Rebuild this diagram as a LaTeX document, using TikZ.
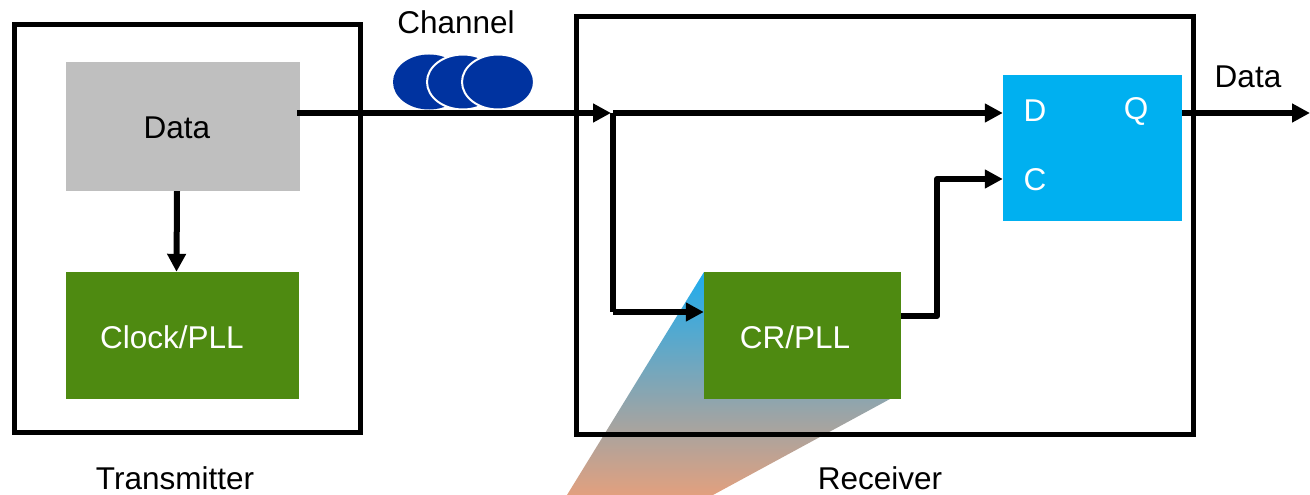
\documentclass[tikz,border=0pt]{standalone}
\usepackage{fontspec}
\setmainfont{Liberation Sans}
\usetikzlibrary{arrows.meta,shapes.geometric}
\definecolor{boxgray}{RGB}{191,191,191}
\definecolor{pllgreen}{RGB}{78,138,17}
\definecolor{ffcyan}{RGB}{0,176,240}
\definecolor{chanblue}{RGB}{0,51,160}
\definecolor{conetop}{RGB}{30,172,238}
\definecolor{conemid}{RGB}{150,166,205}
\definecolor{conebot}{RGB}{226,160,126}
\begin{document}
\begin{tikzpicture}[x=1pt,y=-1pt,
  lbl/.style={font=\fontsize{31.5}{36}\selectfont, inner sep=0pt},
  frame/.style={draw=black, line width=5pt, inner sep=0pt},
  block/.style={inner sep=0pt, font=\fontsize{31.5}{36}\selectfont},
  conn/.style={line width=6pt, line join=round, -{Triangle[length=18pt,width=18pt]}},
  chan/.style={ellipse, fill=chanblue, minimum width=72pt, minimum height=55pt, inner sep=0pt}]
\useasboundingbox (0,0) rectangle (1310,495);

% zoom cone behind the receiver
\shade[top color=conetop, middle color=conemid, bottom color=conebot]
  (704,272) -- (900,272) -- (890,399) -- (713,495) -- (567,495) -- cycle;

% frames
\node[frame, minimum width=346pt, minimum height=408pt] (tx) at (187.5,228.5) {};
\node[frame, minimum width=617pt, minimum height=417pt] (rx) at (884.5,225.5) {};
\node[lbl] (txl) at (175,478) {Transmitter};
\node[lbl] (rxl) at (880,478) {Receiver};

% transmitter blocks
\node[block, fill=boxgray, minimum width=234pt, minimum height=129pt] (data) at (183,126.5) {};
\node[lbl] (datal) at (177,128) {Data};
\node[block, fill=pllgreen, minimum width=233pt, minimum height=127pt] (clock) at (182.5,335.5) {};
\node[lbl, text=white] (clockl) at (172,337) {Clock/PLL};

% receiver blocks
\node[block, fill=pllgreen, minimum width=197pt, minimum height=127pt] (cr) at (802.5,335.5) {};
\node[lbl, text=white] (crl) at (795,337) {CR/PLL};
\node[block, fill=ffcyan, minimum width=179pt, minimum height=146pt] (ff) at (1092.5,148) {};
\node[lbl, text=white] (ffd) at (1035,111) {D};
\node[lbl, text=white] (ffq) at (1136,111) {Q};
\node[lbl, text=white] (ffc) at (1035,180) {C};

% channel
\node[lbl] (chl) at (456,22) {Channel};
\node[chan] (ch1) at (429,82) {};
\node[chan, draw=white, line width=2pt] (ch2) at (463,82) {};
\node[chan, draw=white, line width=2pt] (ch3) at (498,82) {};

% connectors
\coordinate (j) at (613,113);
\coordinate (bend) at (613,312);
\coordinate (k1) at (937,316);
\coordinate (k2) at (937,179);
\coordinate (out) at (1310,113);

\draw[conn] ([xshift=-6pt]data.south) -- ([xshift=-6pt]clock.north);
\draw[conn, shorten >=2pt] ([xshift=-3pt]data.east |- j) -- (j);
\draw[conn] (j) -- (ff.west |- j);
\draw[line width=6pt, line join=round] (j) -- (bend);
\draw[conn] (bend) -- (cr.west |- bend);
\draw[conn] (cr.east |- k1) -| (k2) -- (ff.west |- k2);
\draw[conn] (ff.east |- j) -- (out);
\node[lbl] (outl) at (1248,77) {Data};
\end{tikzpicture}
\end{document}
